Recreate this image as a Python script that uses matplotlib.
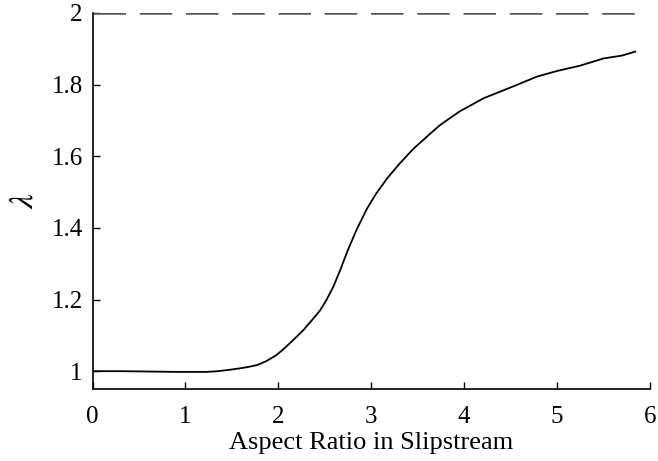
import matplotlib
matplotlib.use("Agg")
from matplotlib import pyplot as plt
import numpy as np

# aspect ratio in the slipstream vs. lambda
aspect_ratio = [0.0, 0.3, 0.6, 0.9, 1.1, 1.23, 1.35, 1.48, 1.59, 1.68, 1.77,
                1.87, 1.98, 2.07, 2.16, 2.27, 2.37, 2.45, 2.52, 2.59, 2.67,
                2.74, 2.84, 2.95, 3.05, 3.17, 3.3, 3.45, 3.63, 3.74, 3.95,
                4.21, 4.5, 4.78, 5.0, 5.25, 5.5, 5.7, 5.84]
lam = [1.0, 1.0, 0.999, 0.998, 0.998, 0.998, 1.0, 1.004, 1.008, 1.012, 1.017,
       1.028, 1.045, 1.065, 1.087, 1.115, 1.145, 1.170, 1.200, 1.235, 1.285,
       1.333, 1.394, 1.452, 1.495, 1.538, 1.578, 1.620, 1.662, 1.687, 1.725,
       1.762, 1.792, 1.822, 1.838, 1.853, 1.873, 1.881, 1.892]
limit_value = 2.0

plt.rcParams["font.family"] = ["Liberation Serif", "DejaVu Serif"]
plt.rcParams["mathtext.fontset"] = "stix"

fig = plt.figure(figsize=(6.58, 4.61), dpi=100)
ax = fig.add_axes([0.1406, 0.156, 0.8474, 0.816])

ax.plot(aspect_ratio, lam, color="black", lw=1.3)
ax.axhline(limit_value, xmax=0.99, color="#555555", lw=1.8, dashes=(13, 5.5))

ax.set_xlim(0, 6)
ax.set_ylim(0.95, 2.0)
ax.set_xticks(np.arange(0, 7, 1))
ax.set_yticks([1, 1.2, 1.4, 1.6, 1.8, 2])
ax.set_yticklabels(["1", "1.2", "1.4", "1.6", "1.8", "2"])

for side in ("top", "right"):
    ax.spines[side].set_visible(False)
for side in ("left", "bottom"):
    ax.spines[side].set_linewidth(1.2)

ax.tick_params(direction="in", length=5, width=1, labelsize=18)
ax.tick_params(axis="x", pad=12)
ax.tick_params(axis="y", pad=7)

ax.set_xlabel("Aspect Ratio in Slipstream", fontsize=19, labelpad=3)
ax.set_ylabel(r"$\lambda$", fontsize=24, labelpad=9)

fig.savefig("out.png", dpi=100)
